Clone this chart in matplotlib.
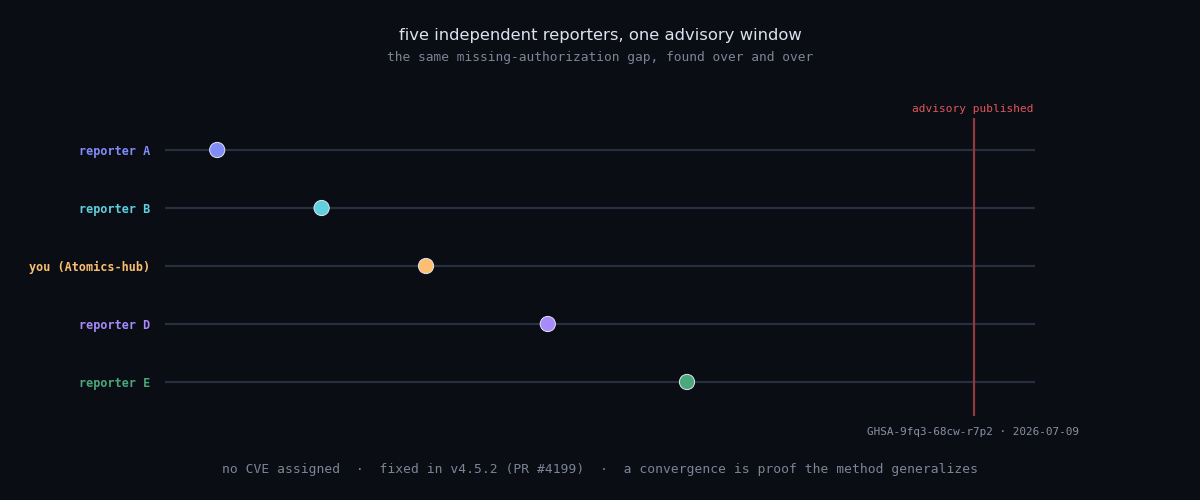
import matplotlib
matplotlib.use("Agg")
import matplotlib.pyplot as plt

# reporters, top to bottom, and when each one reported (day in the window)
reporters = ["reporter A", "reporter B", "you (Atomics-hub)", "reporter D", "reporter E"]
report_day = [6, 18, 30, 44, 60]
colors = ["#818cf8", "#5ed0e0", "#fdbf6f", "#a78bfa", "#4aa87a"]
advisory_day = 93
window = (0, 100)

BG = "#0a0d14"
MONO = "DejaVu Sans Mono"

fig = plt.figure(figsize=(12, 5), dpi=100, facecolor=BG)
ax = fig.add_axes([165 / 1200, 1 - 416 / 500, 870 / 1200, 298 / 500])
ax.set_facecolor(BG)

rows = list(range(len(reporters)))
ax.hlines(rows, window[0], window[1], color="#2a2f3f", lw=1.6, zorder=1)
ax.axvline(advisory_day, color="#8e3a40", lw=1.6, zorder=2)
ax.scatter(report_day, rows, s=120, c=colors, edgecolors="#dfe5f0",
           linewidths=0.7, zorder=3)

ax.set_xlim(*window)
ax.set_ylim(4 + 34 / 58, -32 / 58)
ax.set_xticks([])
ax.set_yticks(rows)
ax.set_yticklabels(reporters, fontfamily=MONO, fontsize=8.5, fontweight="bold")
for lab, c in zip(ax.get_yticklabels(), colors):
    lab.set_color(c)
ax.tick_params(axis="y", length=0, pad=10.5)
for s in ax.spines.values():
    s.set_visible(False)

ax.text(0.998, 1.015, "advisory published", transform=ax.transAxes,
        ha="right", va="bottom", fontfamily=MONO, fontsize=8.0, color="#e0575a")

fig.text(0.5, 1 - 35 / 500, "five independent reporters, one advisory window",
         ha="center", va="center", fontsize=11.8, color="#dde2ee")
fig.text(0.5, 1 - 58 / 500, "the same missing-authorization gap, found over and over",
         ha="center", va="center", fontfamily=MONO, fontsize=9.3, color="#7c8496")
fig.text(1079 / 1200, 1 - 432 / 500, "GHSA-9fq3-68cw-r7p2 \u00b7 2026-07-09",
         ha="right", va="center", fontfamily=MONO, fontsize=7.9, color="#8a91a3")
fig.text(0.5, 1 - 470 / 500,
         "no CVE assigned  \u00b7  fixed in v4.5.2 (PR #4199)  \u00b7  a convergence is proof the method generalizes",
         ha="center", va="center", fontfamily=MONO, fontsize=9.35, color="#7c8496")

fig.savefig("out.png", dpi=100, facecolor=BG)
